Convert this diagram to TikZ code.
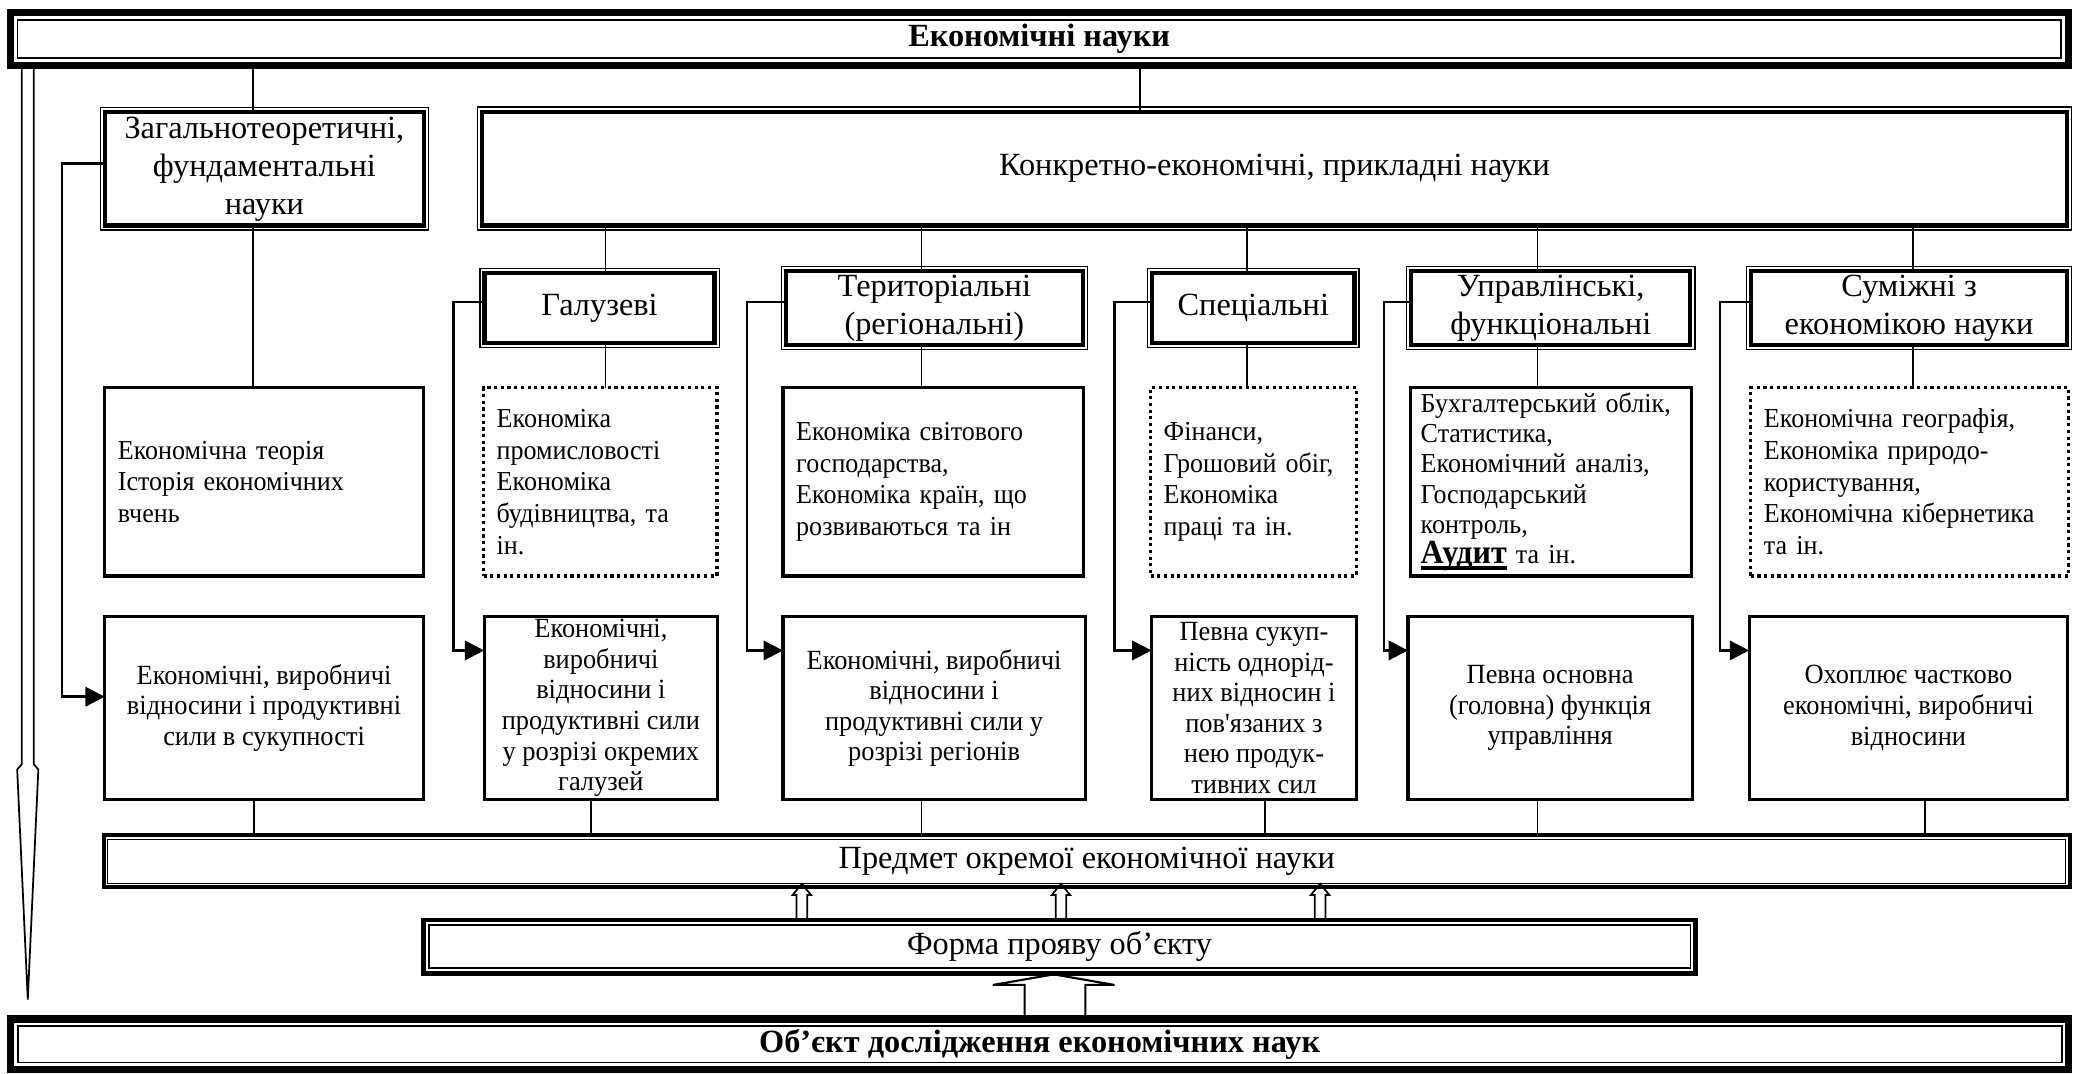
\documentclass[tikz,border=0pt]{standalone}
\usepackage{fontspec}
\setmainfont{Liberation Serif}
\newfontfamily\condfam[FakeStretch=0.95]{Liberation Serif}
\usetikzlibrary{arrows.meta}
\newcommand{\un}{0.013221cm}
\newcommand{\bodyfont}{\condfam\fontsize{7.8}{9}\selectfont}
\newcommand{\lowfont}{\condfam\fontsize{7.9}{8.7}\selectfont}
\newcommand{\headfont}{\fontsize{9.2}{10.8}\selectfont}
\newcommand{\thickul}[1]{\leavevmode\setbox0\hbox{#1}\rlap{\rule[-1.7pt]{\wd0}{1pt}}\box0\relax}
\begin{document}
\begin{tikzpicture}[x=\un, y=-\un,
  sz/.style 2 args={minimum width=#1*\un, minimum height=#2*\un},
  bar/.style={draw, line width=2pt, outer sep=0pt, inner sep=0pt, font=\headfont\bfseries},
  head/.style={draw, line width=1.2pt, outer sep=0pt, inner sep=1pt, align=center, font=\headfont},
  cont/.style={draw, line width=0.9pt, outer sep=0pt, inner xsep=10*\un, inner ysep=0pt, align=left, font=\bodyfont},
  dots/.style={cont, densely dotted},
  low/.style={draw, line width=0.9pt, outer sep=0pt, inner sep=0pt, align=center, font=\lowfont},
  link/.style={line width=0.5pt},
  sarr/.style={line width=0.7pt, -{Triangle[length=5.5pt,width=5.5pt]}}]
\useasboundingbox (0,0) rectangle (1568,812);

\node[bar, sz={1556.5}{39.5}] (econ) at (786,29.5) {Економічні науки};
\node[bar, sz={1557}{38.5}] (obj) at (786.4,790) {Об’єкт дослідження економічних наук};

\node[head, sz={241}{85.5}] (zag) at (200,127.75) {Загальнотеоретичні,\\ фундаментальні\\ науки};
\node[head, sz={1199}{86}] (konk) at (964,127.5) {Конкретно-економічні, прикладні науки};
\node[head, sz={174}{53}] (gal) at (453.5,233) {Галузеві};
\node[head, sz={224.5}{53}] (ter) at (706.75,233) {Територіальні\\ (регіональні)};
\node[head, sz={153}{53}] (spec) at (948,233) {Спеціальні};
\node[head, sz={211}{53}] (upr) at (1173,233) {Управлінські,\\ функціональні};
\node[head, sz={239}{53}] (sum) at (1444,233) {Суміжні з\\ економікою науки};

\node[cont, sz={241}{142.4}, text width=2.922cm] (zagc) at (199.75,364.5) {Економічна теорія\\ Історія економічних\\ вчень};
\node[dots, sz={176.5}{142.4}, text width=2.069cm] (galc) at (454,364.5) {Економіка\\ промисловості\\ Економіка\\ будівництва, та\\ ін.};
\node[cont, sz={227.4}{142.4}, text width=2.742cm] (terc) at (706,364.5) {Економіка світового\\ господарства,\\ Економіка країн, що\\ розвиваються та ін};
\node[dots, sz={155.5}{142.4}, text width=1.791cm] (specc) at (948,364.5) {Фінанси,\\ Грошовий обіг,\\ Економіка\\ праці та ін.};
\node[cont, sz={212.4}{142.4}, inner xsep=8*\un, text width=2.6cm, font=\condfam\fontsize{7.8}{8.6}\selectfont] (uprc) at (1173,364.5) {Бухгалтерський облік,\\ Статистика,\\ Економічний аналіз,\\ Господарський\\ контроль,\\ \thickul{\fontsize{9.6}{9}\selectfont\textbf{Аудит}} та ін.};
\node[dots, sz={240.4}{142.4}, text width=2.914cm] (sumc) at (1444.5,364.5) {Економічна географія,\\ Економіка природо-\\ користування,\\ Економічна кібернетика\\ та ін.};

\node[low, sz={241}{139}] (zagb) at (199.75,535.5) {Економічні, виробничі\\ відносини і продуктивні\\ сили в сукупності};
\node[low, sz={176.5}{139}] (galb) at (454.5,535.5) {Економічні,\\ виробничі\\ відносини і\\ продуктивні сили\\ у розрізі окремих\\ галузей};
\node[low, sz={228.5}{139}] (terb) at (706.5,535.5) {Економічні, виробничі\\ відносини і\\ продуктивні сили у\\ розрізі регіонів};
\node[low, sz={155}{139}] (specb) at (948.5,535.5) {Певна сукуп-\\ ність однорід-\\ них відносин і\\ пов\symbol{39}язаних з\\ нею продук-\\ тивних сил};
\node[low, sz={215}{139}] (uprb) at (1172.5,535.5) {Певна основна\\ (головна) функція\\ управління};
\node[low, sz={241}{139}] (sumb) at (1443.5,535.5) {Охоплює частково\\ економічні, виробничі\\ відносини};

\node[draw, line width=1.1pt, outer sep=0pt, sz={1487}{30}, font=\headfont] (pred) at (822,651.5) {Предмет окремої економічної науки};
\node[draw, line width=1.3pt, outer sep=0pt, sz={962}{37}, font=\headfont] (form) at (801.5,716) {Форма прояву об’єкту};

\foreach \b in {econ,obj}
  \draw[line width=0.5pt] ([shift={(5.5,5.5)}]\b.north west) rectangle ([shift={(-5.5,-5.5)}]\b.south east);
\foreach \b in {zag,konk,gal,ter,spec,upr,sum}
  \draw[line width=0.4pt] ([shift={(-3.5,-3.5)}]\b.north west) rectangle ([shift={(3.5,3.5)}]\b.south east);
\draw[line width=0.4pt] ([shift={(3,3)}]pred.north west) rectangle ([shift={(-3,-3)}]pred.south east);
\draw[line width=0.4pt] ([shift={(4,4)}]form.north west) rectangle ([shift={(-4,-4)}]form.south east);

\draw[link] (econ.south -| 191.5,0) -- (zag.north -| 191.5,0);
\draw[link] (econ.south -| 862,0) -- (konk.north -| 862,0);
\draw[link] (zag.south -| 191.5,0) -- (zagc.north -| 191.5,0);
\foreach \ca/\cc/\x in {gal/galc/458, ter/terc/697, spec/specc/943, upr/uprc/1163, sum/sumc/1447}
{
  \draw[link] (konk.south -| \x,0) -- (\ca.north -| \x,0);
  \draw[link] (\ca.south -| \x,0) -- (\cc.north -| \x,0);
}
\foreach \cb/\x in {zagb/192, galb/447, terb/697, specb/957, uprb/1163, sumb/1456}
  \draw[link] (\cb.south -| \x,0) -- (pred.north -| \x,0);

\draw[sarr] (zag.west |- 0,123.5) -| (47,527) -- (zagb.west |- 0,527);
\foreach \ca/\cb/\x in {gal/galb/343, ter/terb/565, spec/specb/843, upr/uprb/1047, sum/sumb/1301}
  \draw[sarr] (\ca.west |- 0,228.5) -| (\x,492) -- (\cb.west |- 0,492);

\draw[link] (econ.south -| 16.5,0) -- (16.5,578) -- (13,582) -- (21,756) -- (29,582) -- (25.5,578) -- (econ.south -| 25.5,0);
\foreach \x in {606.5,802.5,998.5}
  \draw[link] (\x-4,696) -- (\x-4,677) -- (\x-7,677) -- (\x,668.5) -- (\x+7,677) -- (\x+4,677) -- (\x+4,696);
\draw[line width=0.6pt] (obj.north -| 775,0) -- (775,745) -- (751,745) -- (797,737) -- (843,745) -- (821,745) -- (obj.north -| 821,0);
\end{tikzpicture}
\end{document}
